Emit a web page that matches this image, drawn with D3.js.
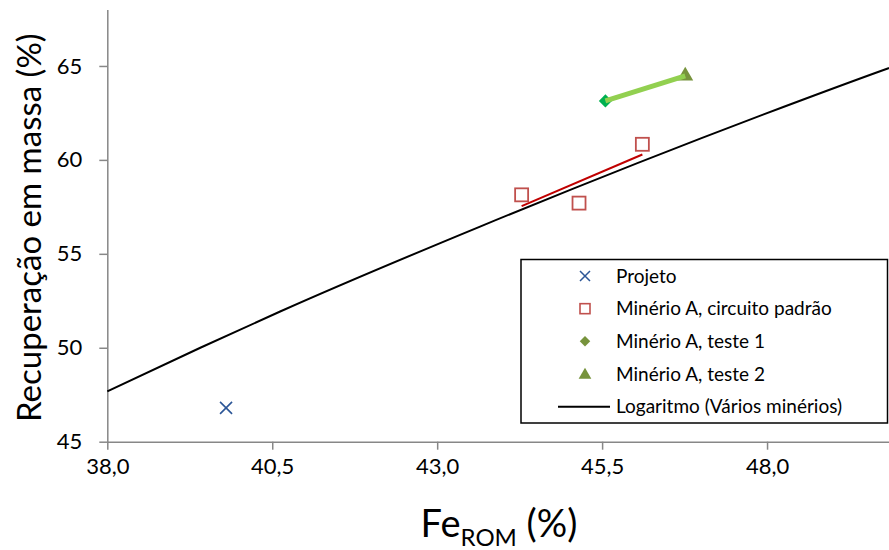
<!DOCTYPE html>
<html>
<head>
<meta charset="utf-8">
<script src="https://cdn.jsdelivr.net/npm/d3@7"></script>
<style>
  body { margin: 0; background: #fff; }
  svg { display: block; font-family: Lato, "Open Sans", sans-serif; }
</style>
</head>
<body>
<div id="chart"></div>
<script>
// data
const xTicks = [38.0, 40.5, 43.0, 45.5, 48.0];
const yTicks = [45, 50, 55, 60, 65];

const projeto = [[39.8, 46.8]];
const padrao = [[44.28, 58.14], [45.15, 57.70], [46.11, 60.83]];
const teste1 = [[45.55, 63.14]];
const teste2 = [[46.76, 64.47]];
// points read along the "Logaritmo (Vários minérios)" trendline
const logCurve = [[38.0, 47.68], [39.41, 50.0], [40.62, 51.93], [43.65, 56.45], [48.53, 63.19], [49.84, 64.88], [50.0, 65.08]];

const legendLabels = ['Projeto', 'Minério A, circuito padrão', 'Minério A, teste 1', 'Minério A, teste 2', 'Logaritmo (Vários minérios)'];

const W = 889, H = 550;
const margin = {top: 9.6, left: 107.3, right: -10, bottom: 108.3};

const svg = d3.select('#chart').append('svg')
    .attr('width', W)
    .attr('height', H);

const x = d3.scaleLinear().domain([38, 50]).range([margin.left, W - margin.right]);
const y = d3.scaleLinear().domain([45, 68]).range([H - margin.bottom, margin.top]);

const axisColor = '#878787';

// x axis
const xAxis = svg.append('g')
    .attr('transform', `translate(0,${y(45)})`)
    .call(d3.axisBottom(x).tickValues(xTicks).tickSize(8).tickSizeOuter(0)
        .tickFormat(d => d3.format('.1f')(d).replace('.', ',')));
xAxis.select('.domain').attr('stroke', axisColor).attr('stroke-width', 1.5);
xAxis.selectAll('.tick line').attr('stroke', axisColor).attr('stroke-width', 1.5);
xAxis.selectAll('.tick text').attr('font-size', 22).attr('fill', '#000').attr('y', 16).attr('dy', '0.75em')
    .attr('font-family', 'Lato, sans-serif');

// y axis
const yAxis = svg.append('g')
    .attr('transform', `translate(${x(38)},0)`)
    .call(d3.axisLeft(y).tickValues(yTicks).tickSize(8).tickSizeOuter(0));
yAxis.select('.domain').attr('stroke', axisColor).attr('stroke-width', 1.5);
yAxis.selectAll('.tick line').attr('stroke', axisColor).attr('stroke-width', 1.5);
yAxis.selectAll('.tick text').attr('font-size', 22).attr('fill', '#000').attr('x', -25)
    .attr('font-family', 'Lato, sans-serif');

// axis titles
svg.append('text')
    .attr('transform', `translate(41,${(y(45) + y(68)) / 2 + 2}) rotate(-90)`)
    .attr('text-anchor', 'middle')
    .attr('font-size', 33)
    .text('Recuperação em massa (%)');

const xt = svg.append('text')
    .attr('x', 499).attr('y', 537)
    .attr('text-anchor', 'middle')
    .attr('font-size', 38);
xt.append('tspan').text('Fe');
xt.append('tspan').attr('font-size', 24).attr('dy', 9).text('ROM');
xt.append('tspan').attr('dy', -9).text(' (%)');

// log trendline
const line = d3.line().x(d => x(d[0])).y(d => y(d[1])).curve(d3.curveMonotoneX);
svg.append('path')
    .datum(logCurve)
    .attr('fill', 'none')
    .attr('stroke', '#000')
    .attr('stroke-width', 2)
    .attr('d', line);

// linear trendline through the "circuito padrão" points
const mx = d3.mean(padrao, d => d[0]), my = d3.mean(padrao, d => d[1]);
const slope = d3.sum(padrao, d => (d[0] - mx) * (d[1] - my)) / d3.sum(padrao, d => (d[0] - mx) ** 2);
const xr = d3.extent(padrao, d => d[0]);
const redLine = xr.map(v => [v, my + slope * (v - mx)]);
svg.append('path')
    .datum(redLine)
    .attr('fill', 'none')
    .attr('stroke', '#C00000')
    .attr('stroke-width', 2)
    .attr('d', d3.line().x(d => x(d[0])).y(d => y(d[1])));

// markers
svg.selectAll('.proj')
    .data(projeto)
    .enter().append('path')
    .attr('class', 'proj')
    .attr('transform', d => `translate(${x(d[0])},${y(d[1])})`)
    .attr('d', 'M-6,-6L6,6M-6,6L6,-6')
    .attr('stroke', '#2C5697')
    .attr('stroke-width', 1.6)
    .attr('fill', 'none');

svg.selectAll('.sq')
    .data(padrao)
    .enter().append('rect')
    .attr('class', 'sq')
    .attr('x', d => x(d[0]) - 6.5)
    .attr('y', d => y(d[1]) - 6.5)
    .attr('width', 13).attr('height', 13)
    .attr('fill', '#fff')
    .attr('stroke', '#C0504D')
    .attr('stroke-width', 1.8);

svg.selectAll('.dia')
    .data(teste1)
    .enter().append('path')
    .attr('class', 'dia')
    .attr('transform', d => `translate(${x(d[0])},${y(d[1])})`)
    .attr('d', d3.symbol(d3.symbolDiamond2, 110)())
    .attr('fill', '#00B050');

svg.selectAll('.tri')
    .data(teste2)
    .enter().append('path')
    .attr('class', 'tri')
    .attr('transform', d => `translate(${x(d[0])},${y(d[1])})`)
    .attr('d', d3.symbol(d3.symbolTriangle, 110)())
    .attr('fill', '#77933C');

// green line from teste 1 to teste 2
svg.append('path')
    .datum([teste1[0], teste2[0]])
    .attr('fill', 'none')
    .attr('stroke', '#92D050')
    .attr('stroke-width', 5)
    .attr('d', d3.line().x(d => x(d[0])).y(d => y(d[1])));

// legend
const lg = svg.append('g');
lg.append('rect')
    .attr('x', 521).attr('y', 259.5)
    .attr('width', 366.5).attr('height', 163.5)
    .attr('fill', '#fff')
    .attr('stroke', '#000')
    .attr('stroke-width', 1.5);

const rowY = d3.scaleLinear().domain([0, 4]).range([276, 406.7]);
const mX = 585;

legendLabels.forEach((t, i) => {
    lg.append('text')
        .attr('x', 616).attr('y', rowY(i))
        .attr('dy', '0.35em')
        .attr('font-size', 19)
        .text(t);
});

lg.append('path')
    .attr('transform', `translate(${mX},${rowY(0)})`)
    .attr('d', 'M-5,-5L5,5M-5,5L5,-5')
    .attr('stroke', '#2C5697').attr('stroke-width', 1.5).attr('fill', 'none');
lg.append('rect')
    .attr('x', mX - 5).attr('y', rowY(1) - 5)
    .attr('width', 10).attr('height', 10)
    .attr('fill', '#fff').attr('stroke', '#C0504D').attr('stroke-width', 1.6);
lg.append('path')
    .attr('transform', `translate(${mX},${rowY(2)})`)
    .attr('d', d3.symbol(d3.symbolDiamond2, 70)())
    .attr('fill', '#77933C');
lg.append('path')
    .attr('transform', `translate(${mX},${rowY(3) + 1})`)
    .attr('d', d3.symbol(d3.symbolTriangle, 70)())
    .attr('fill', '#77933C');
lg.append('line')
    .attr('x1', 558).attr('x2', 610)
    .attr('y1', rowY(4)).attr('y2', rowY(4))
    .attr('stroke', '#000').attr('stroke-width', 2);
</script>
</body>
</html>
